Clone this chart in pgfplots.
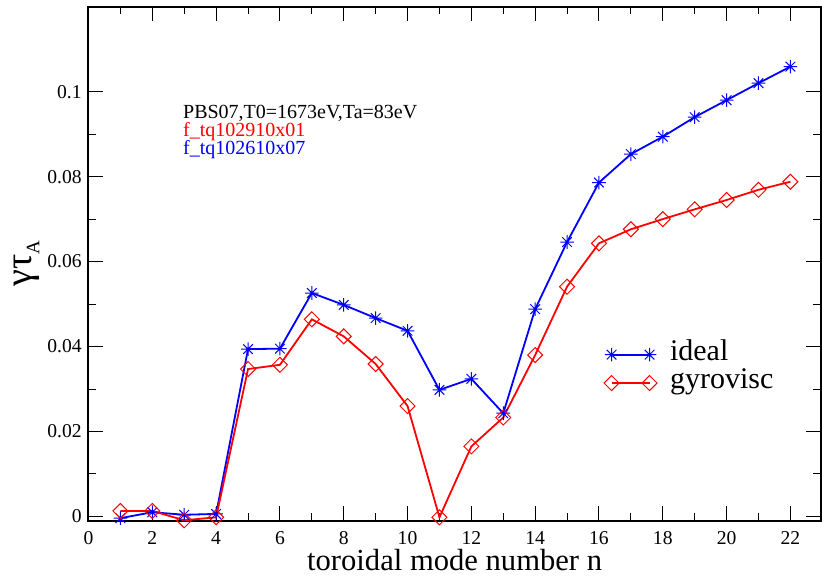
\documentclass[border=0pt]{standalone}
\usepackage{fontspec}
\setmainfont{Liberation Serif}
\usepackage{pgfplots}
\pgfplotsset{compat=1.18}

\pgfdeclareplotmark{gstar}{%
  \pgfpathmoveto{\pgfqpoint{0pt}{\pgfplotmarksize}}\pgfpathlineto{\pgfqpoint{0pt}{-\pgfplotmarksize}}%
  \pgfpathmoveto{\pgfqpoint{\pgfplotmarksize}{0pt}}\pgfpathlineto{\pgfqpoint{-\pgfplotmarksize}{0pt}}%
  \pgfpathmoveto{\pgfqpoint{0.7071\pgfplotmarksize}{0.7071\pgfplotmarksize}}\pgfpathlineto{\pgfqpoint{-0.7071\pgfplotmarksize}{-0.7071\pgfplotmarksize}}%
  \pgfpathmoveto{\pgfqpoint{0.7071\pgfplotmarksize}{-0.7071\pgfplotmarksize}}\pgfpathlineto{\pgfqpoint{-0.7071\pgfplotmarksize}{0.7071\pgfplotmarksize}}%
  \pgfusepathqstroke}

\pgfplotstableread{
n  g
1  -0.0004
2  0.0010
3  0.0004
4  0.0006
5  0.0394
6  0.0395
7  0.0526
8  0.0498
9  0.0467
10 0.0437
11 0.0298
12 0.0324
13 0.0243
14 0.0488
15 0.0646
16 0.0786
17 0.0853
18 0.0894
19 0.0940
20 0.0980
21 0.1020
22 0.1059
}\ideal

\pgfplotstableread{
n  g
1  0.0013
2  0.0013
3  -0.0009
4  -0.0002
5  0.0347
6  0.0357
7  0.0464
8  0.0424
9  0.0359
10 0.0260
11 -0.0002
12 0.0165
13 0.0233
14 0.0380
15 0.0541
16 0.0643
17 0.0676
18 0.0700
19 0.0723
20 0.0745
21 0.0769
22 0.0788
}\gyro

\begin{document}
\begin{tikzpicture}
\begin{axis}[name=main, scale only axis, width=366.1pt, height=257pt,
  xmin=0, xmax=22.95, ymin=-0.001, ymax=0.12,
  xtick={0,2,...,22}, minor x tick num=1,
  ytick={0,0.02,0.04,0.06,0.08,0.1}, minor y tick num=1,
  tick align=inside, major tick length=7.25pt, minor tick length=3.75pt,
  tick style={black, line width=0.5pt},
  axis line style={line width=1pt},
  scaled y ticks=false, clip=false,
  /pgf/number format/assume math mode=true,
  yticklabel style={/pgf/number format/fixed, /pgf/number format/precision=2,
    font=\fontsize{9.8}{11}\selectfont, inner sep=0pt, anchor=east, xshift=-3.2pt},
  xticklabel style={font=\fontsize{9.8}{11}\selectfont, inner sep=0pt, anchor=north, yshift=-5.1pt},
  xlabel={toroidal mode number n},
  xlabel style={font=\fontsize{15.3}{17}\selectfont, at={(axis description cs:0.5,-0.0973)}, anchor=base, inner sep=0pt},
  ylabel={\fontsize{19}{21}\selectfont γτ\raisebox{-3.8pt}{\fontsize{9.5}{10}\selectfont A}},
  ylabel style={at={(axis description cs:-0.0775,0.5)}, anchor=base, inner sep=0pt},
  legend style={draw=none, fill=none, at={(axis cs:16.16,0.03475)}, anchor=west,
    inner sep=0pt, outer sep=0pt, row sep=0pt, column sep=6.5pt,
    font=\fontsize{15}{17}\selectfont,
    nodes={inner sep=0pt, text height=10pt, text depth=4.2pt}},
  legend cell align=left,
  legend image code/.code={\draw[#1] plot coordinates {(0pt,0pt) (19pt,0pt)};},
]
\addplot[blue, line width=0.9pt, mark=gstar, mark size=3.4pt, mark options={line width=0.5pt, solid}] table[x=n, y=g] {\ideal};
\addlegendentry{ideal}
\addplot[red, line width=0.9pt, mark=square, mark size=2.65pt, mark options={rotate=45, line width=0.5pt, solid}] table[x=n, y=g] {\gyro};
\addlegendentry{gyrovisc}
\node[anchor=base west, font=\fontsize{10}{12}\selectfont, inner sep=0pt] at (axis cs:2.954,0.0938) {PBS07,T0=1673eV,Ta=83eV};
\node[anchor=base west, font=\fontsize{10}{12}\selectfont, inner sep=0pt, text=red] at (axis cs:2.954,0.0895) {f\_tq102910x01};
\node[anchor=base west, font=\fontsize{10}{12}\selectfont, inner sep=0pt, text=blue] at (axis cs:2.954,0.0852) {f\_tq102610x07};
\end{axis}
\pgfresetboundingbox
\path ([shift={(-44.25pt,-27.15pt)}]main.south west) rectangle ([shift={(0.65pt,3.35pt)}]main.north east);
\end{tikzpicture}
\end{document}
